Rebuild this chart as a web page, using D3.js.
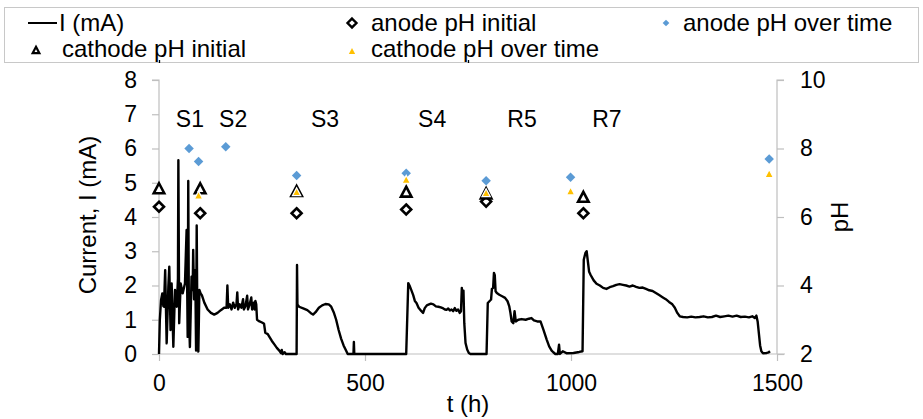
<!DOCTYPE html>
<html><head><meta charset="utf-8">
<script src="https://cdn.jsdelivr.net/npm/d3@7"></script>
<style>
html,body{margin:0;padding:0;background:#fff;}
svg{display:block;font-family:"Liberation Sans",Arial,sans-serif;}
</style></head>
<body><svg id="c" width="923" height="419"></svg>
<script>
// ---------- data ----------
const tHours = [0,2,5,8,10.5,12,15,18.6,22.7,25,28,30.7,34.8,38.8,43,46,47,49,52.6,57.4,63,67,69.6,71,72.5,75,79,81.7,83,85,88,90,91.5,93,95.5,98,101,
104,110,118,126,134,142,150,158,164,166,168,172,176,180,184,188,190,192,196,200,204,206,210,214,216,220,224,226,230,232,234,236,238,244,250,255,258,264,268,274,280,286,292,296,298,300,305,308,334,
335,336,340,350,360,368,374,380,388,396,404,412,418,424,430,436,442,448,454,458,472,473,474,598,
600,605,608,612,617,621,625,630,637,641,645,650,654,660,666,672,678,684,690,694,698,702,706,710,714,718,722,726,730,733,735,737,739,741,744,748,752,756,795,
798,802,806,808,811,813,815,817,820,826,834,840,846,850,853,856,860,863,866,872,880,890,898,904,910,918,926,933,941,947,953,957,962,968,971,973,980,990,1006,1020,1028,
1031,1035,1038,1041,1044,1048,1055,1062,1070,1078,1086,1094,1102,1110,1118,1126,1134,1142,1150,1158,1166,1174,1182,1190,1198,1206,1214,1222,1230,1238,1246,1252,1258,1264,1272,1282,1292,1302,1312,1322,1332,1342,1352,1362,1372,1382,1392,1402,1412,1422,1432,1440,1446,1450,1453,1456,1459,1462,1466,1475,1480,1483];
const currentMA = [0,1.0,1.58,1.77,1.4,1.38,2.45,0.31,1.97,2.55,0.7,2.06,0.21,1.87,1.38,2.2,5.66,0.9,2.06,1.77,2.06,3.62,0.5,5.05,1.2,0.2,2.26,1.87,3.04,1.6,2.45,0.1,3.75,1.2,0.07,1.87,1.77,
1.72,1.5,1.3,1.2,1.15,1.2,1.28,1.35,1.35,2.0,1.35,1.45,1.3,1.5,1.35,1.45,1.8,1.3,1.45,1.35,1.6,1.3,1.4,1.7,1.3,1.45,1.65,1.3,1.5,1.3,1.55,1.45,1.0,0.95,0.92,0.88,0.62,0.58,0.5,0.38,0.28,0.18,0.1,0.03,0.12,0.0,0.05,0.0,0.0,
2.6,1.45,1.38,1.33,1.28,1.2,1.15,1.22,1.35,1.42,1.46,1.45,1.38,1.22,1.0,0.7,0.45,0.25,0.1,0.0,0.0,0.35,0.0,0.0,
0.0,2.07,2.0,1.88,1.72,1.55,1.49,1.35,1.25,1.2,1.34,1.42,1.44,1.47,1.45,1.39,1.38,1.36,1.33,1.3,1.29,1.33,1.27,1.3,1.25,1.34,1.26,1.3,1.2,1.25,1.93,1.59,1.85,0.9,0.32,0.13,0.03,0.0,0.0,
1.49,1.54,1.59,1.9,1.93,2.37,2.3,1.83,1.78,1.73,1.68,1.64,1.54,1.4,1.2,0.95,0.9,1.25,0.95,1.0,1.02,1.0,1.03,1.05,0.98,0.95,0.95,0.71,0.42,0.22,0.1,0.05,0.0,0.0,0.27,0.0,0.08,0.02,0.03,0.06,0.08,
2.75,2.95,3.0,2.7,2.4,2.3,2.15,2.05,2.0,1.93,1.9,1.95,1.98,2.02,2.04,2.02,2.0,1.97,2.0,1.96,1.93,1.94,1.9,1.86,1.84,1.78,1.72,1.66,1.6,1.52,1.45,1.35,1.2,1.1,1.08,1.07,1.09,1.07,1.08,1.1,1.07,1.08,1.12,1.08,1.1,1.12,1.09,1.12,1.08,1.09,1.07,1.1,1.05,1.12,0.95,0.6,0.25,0.08,0.02,0.03,0.05,0.08];

const anodeInitT  = [0,100,334,600,794,1030];
const anodeInitPH = [6.30,6.11,6.11,6.22,6.45,6.11];
const anodeOverT  = [73,96,162,334,600,794,999,1481];
const anodeOverPH = [8.0,7.62,8.05,7.21,7.28,7.06,7.16,7.69];
const cathInitT   = [0,100,334,600,794,1030];
const cathInitPH  = [6.84,6.84,6.76,6.74,6.69,6.59];
const cathOverT   = [96,334,600,794,999,1481];
const cathOverPH  = [6.64,6.74,7.10,6.71,6.76,7.27];

const stageNames = ["S1","S2","S3","S4","R5","R7"];
const stageT     = [75,180,403,663,881,1087];
const stageY     = 6.85; // mA units (label height)

const xTicks = [0,500,1000,1500];
const yTicks = [0,1,2,3,4,5,6,7,8];
const pHTicks = [2,4,6,8,10];

const legendLabels = ["I (mA)","anode pH initial","anode pH over time","cathode pH initial","cathode pH over time"];

// ---------- drawing ----------
const svg = d3.select("#c");
const FONT = 23;
const AX = "#bfbfbf";
const BLUE = "#5b9bd5", YEL = "#ffc000";

const x = d3.scaleLinear().domain([0,1500]).range([159,777]);
const y = d3.scaleLinear().domain([0,8]).range([354,80]);
const yR = d3.scaleLinear().domain([2,10]).range([354,80]);

// custom symbols
const diamondSq = { draw(ctx, size){ const r = Math.sqrt(size)/2; ctx.moveTo(0,-r); ctx.lineTo(r,0); ctx.lineTo(0,r); ctx.lineTo(-r,0); ctx.closePath(); } };
const triBox = { draw(ctx, size){ const w = Math.sqrt(size), h = w*0.95; ctx.moveTo(0,-h/2); ctx.lineTo(w/2,h/2); ctx.lineTo(-w/2,h/2); ctx.closePath(); } };

// legend box
svg.append("rect").attr("x",4.5).attr("y",7.5).attr("width",914).attr("height",55)
  .attr("fill","#fff").attr("stroke","#c8c8c8").attr("stroke-width",1);
// small frame marks at the legend's lower edge
[0,750].forEach(v=>{
  svg.append("line").attr("x1",Math.round(x(v))+0.5).attr("x2",Math.round(x(v))+0.5).attr("y1",60).attr("y2",63)
    .attr("stroke","#000").attr("stroke-width",1.3);
});

// axes
const gL = svg.append("g").attr("transform",`translate(${x(0)},0)`)
  .call(d3.axisLeft(y).tickValues(yTicks).tickSize(7).tickPadding(15).tickFormat(d3.format("d")));
const gR = svg.append("g").attr("transform",`translate(${x(1500)},0)`)
  .call(d3.axisRight(yR).tickValues(pHTicks).tickSize(7).tickPadding(16).tickFormat(d3.format("d")));
const gB = svg.append("g").attr("transform",`translate(0,${y(0)})`)
  .call(d3.axisBottom(x).tickValues(xTicks).tickSize(7).tickPadding(14).tickFormat(d3.format("d")));
[gL,gR,gB].forEach(g=>{
  g.select(".domain").attr("stroke",AX).attr("stroke-width",1.2);
  g.selectAll(".tick line").attr("stroke",AX).attr("stroke-width",1.2);
  g.selectAll("text").attr("font-size",FONT).attr("fill","#000").attr("font-family","Liberation Sans, Arial, sans-serif");
});
gB.select(".domain").attr("d",`M${x(0)},0H${x(1500)+8}`);
gL.select(".domain").attr("d",`M-7,${y(8)}H0V${y(0)}`);
gR.select(".domain").attr("d",`M7,${yR(10)}H0V${yR(2)}`);

// axis titles
svg.append("text").attr("transform",`translate(96,${(y(0)+y(8))/2 - 2}) rotate(-90)`)
  .attr("text-anchor","middle").attr("font-size",FONT+1).text("Current,  I (mA)");
svg.append("text").attr("transform",`translate(848,${(y(0)+y(8))/2}) rotate(-90)`)
  .attr("text-anchor","middle").attr("font-size",FONT+1).text("pH");
svg.append("text").attr("x",(x(0)+x(1500))/2).attr("y",412)
  .attr("text-anchor","middle").attr("font-size",FONT+1).text("t (h)");

// current line
const line = d3.line().x((d,i)=>x(tHours[i])).y((d,i)=>y(currentMA[i]));
svg.append("path").datum(currentMA).attr("d",line).attr("fill","none")
  .attr("stroke","#000").attr("stroke-width",2.4).attr("stroke-linejoin","round");

// stage labels
svg.selectAll(".stage").data(stageNames).join("text")
  .attr("x",(d,i)=>x(stageT[i])).attr("y",y(stageY)).attr("dy","0.35em")
  .attr("text-anchor","middle").attr("font-size",FONT).text(d=>d);

// markers
const sym = (type,size)=>d3.symbol().type(type).size(size)();
svg.selectAll(".ai").data(anodeInitT).join("path")
  .attr("transform",(d,i)=>`translate(${x(d)},${yR(anodeInitPH[i])})`)
  .attr("d",sym(diamondSq,100)).attr("fill","#fff").attr("stroke","#000").attr("stroke-width",2.6);
svg.selectAll(".ao").data(anodeOverT).join("path")
  .attr("transform",(d,i)=>`translate(${x(d)},${yR(anodeOverPH[i])})`)
  .attr("d",sym(diamondSq,90)).attr("fill",BLUE);
svg.selectAll(".ci").data(cathInitT).join("path")
  .attr("transform",(d,i)=>`translate(${x(d)},${yR(cathInitPH[i])})`)
  .attr("d",sym(triBox,110)).attr("fill","#fff").attr("stroke","#000").attr("stroke-width",2.6).attr("stroke-linejoin","miter");
svg.selectAll(".co").data(cathOverT).join("path")
  .attr("transform",(d,i)=>`translate(${x(d)},${yR(cathOverPH[i])})`)
  .attr("d",sym(triBox,70)).attr("fill",YEL).attr("stroke","#fff").attr("stroke-width",1.2);

// legend
const LF = 24;
const L = svg.append("g").attr("font-size",LF);
L.append("line").attr("x1",28).attr("x2",57).attr("y1",23).attr("y2",23).attr("stroke","#000").attr("stroke-width",2);
L.append("text").attr("x",59).attr("y",30.5).text(legendLabels[0]);
L.append("path").attr("transform","translate(352,23)").attr("d",sym(diamondSq,80)).attr("fill","#fff").attr("stroke","#000").attr("stroke-width",2.4);
L.append("text").attr("x",371).attr("y",30.5).text(legendLabels[1]);
L.append("path").attr("transform","translate(666,23)").attr("d",sym(diamondSq,45)).attr("fill",BLUE);
L.append("text").attr("x",683).attr("y",30.5).text(legendLabels[2]);
L.append("path").attr("transform","translate(36,50)").attr("d",sym(triBox,45)).attr("fill","#fff").attr("stroke","#000").attr("stroke-width",2.2);
L.append("text").attr("x",62).attr("y",57.3).text(legendLabels[3]);
L.append("path").attr("transform","translate(352,51)").attr("d",sym(triBox,40)).attr("fill",YEL);
L.append("text").attr("x",371).attr("y",57.3).text(legendLabels[4]);
</script></body></html>
